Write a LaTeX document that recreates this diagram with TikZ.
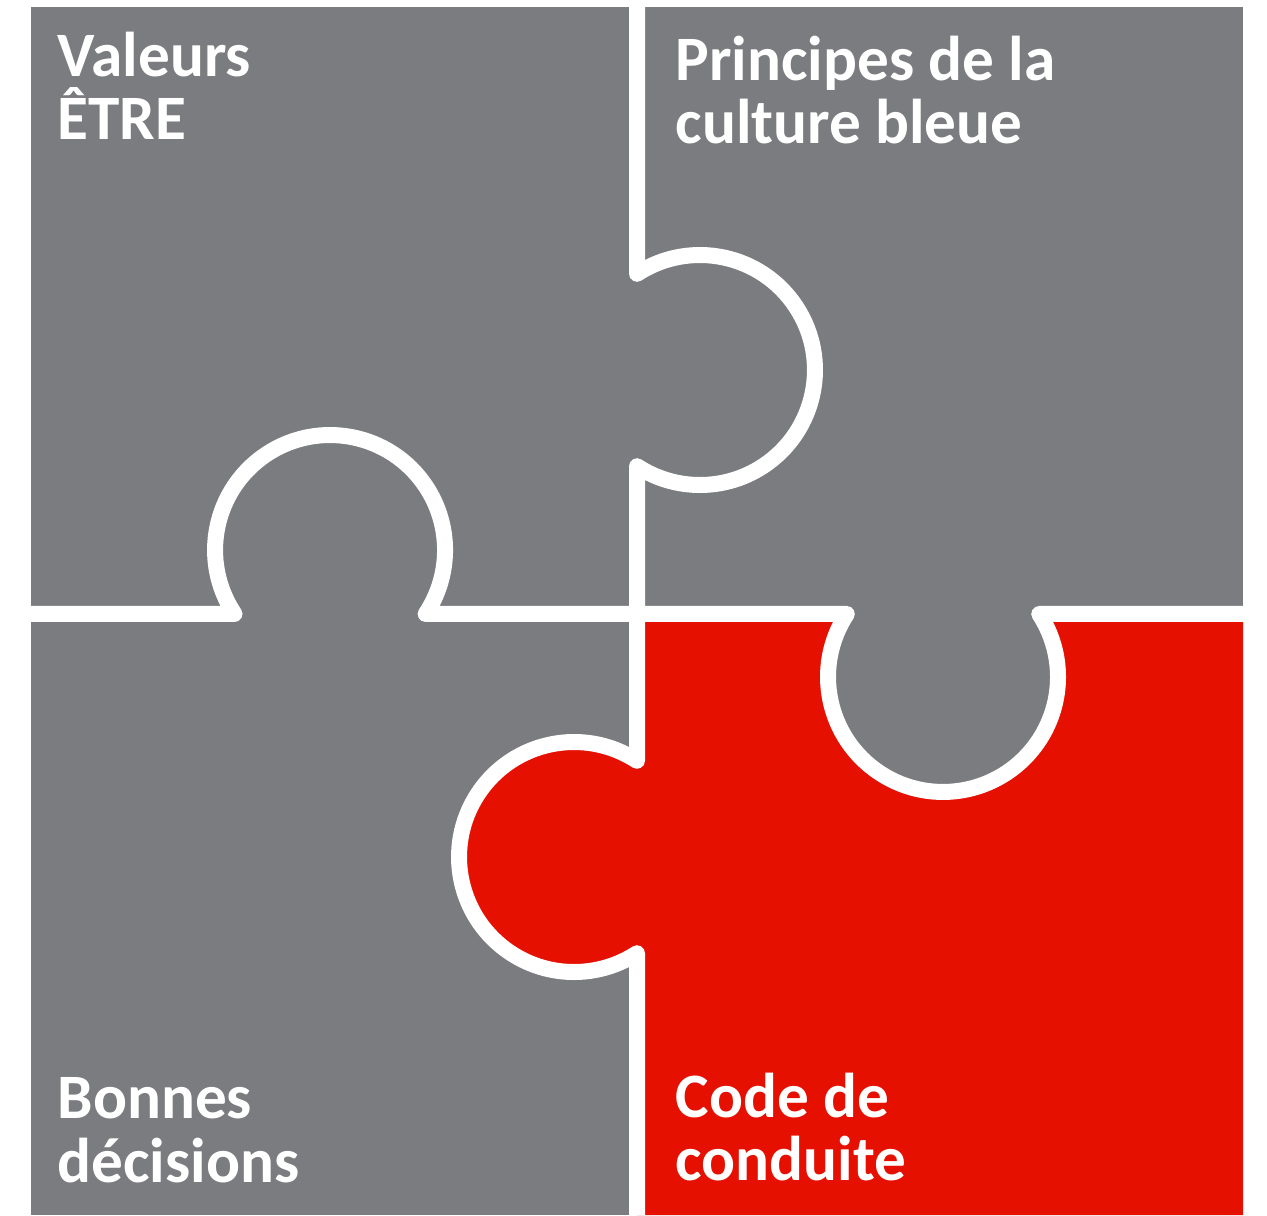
\documentclass[tikz,border=0pt]{standalone}
\usepackage{fontspec}
\setmainfont{Carlito}
\definecolor{piecegray}{RGB}{123,124,128}
\definecolor{piecered}{RGB}{229,16,0}
\tikzset{
  seam/.style={draw=white, line width=0.16cm, line join=round},
  piecetext/.style={text=white, font=\fontsize{18}{18.2}\selectfont\bfseries, align=left, inner sep=0pt, anchor=base west}
}

\begin{document}
\begin{tikzpicture}
\useasboundingbox (0,0) rectangle (12.67,12.15);
\fill [piecegray] (0.31,0) rectangle (12.43,12.08);
\fill [piecered] (6.37,0) -- (6.37,2.618) arc [start angle=303.2, end angle=56.8, radius=1.15] -- (6.37,6.01) -- (8.468,6.01) arc [start angle=146.8, end angle=393.2, radius=1.15] -- (12.43,6.01) -- (12.43,0) -- cycle;
\draw [seam] (6.37,12.15) -- (6.37,9.412) arc [start angle=123.2, end angle=-123.2, radius=1.15] -- (6.37,4.542) arc [start angle=56.8, end angle=303.2, radius=1.15] -- (6.37,0);
\draw [seam] (0.2,6.01) -- (2.345,6.01) arc [start angle=213.8, end angle=-33.8, radius=1.15] -- (8.468,6.01) arc [start angle=146.8, end angle=393.2, radius=1.15] -- (12.5,6.01);

\node [piecetext] (valeurs) at (0.57,10.75) {Valeurs\\ÊTRE};
\node [piecetext] (principes) at (6.75,10.71) {Principes de la\\culture bleue};
\node [piecetext] (bonnes) at (0.57,0.33) {Bonnes\\décisions};
\node [piecetext] (code) at (6.75,0.34) {Code de\\conduite};
\end{tikzpicture}
\end{document}
